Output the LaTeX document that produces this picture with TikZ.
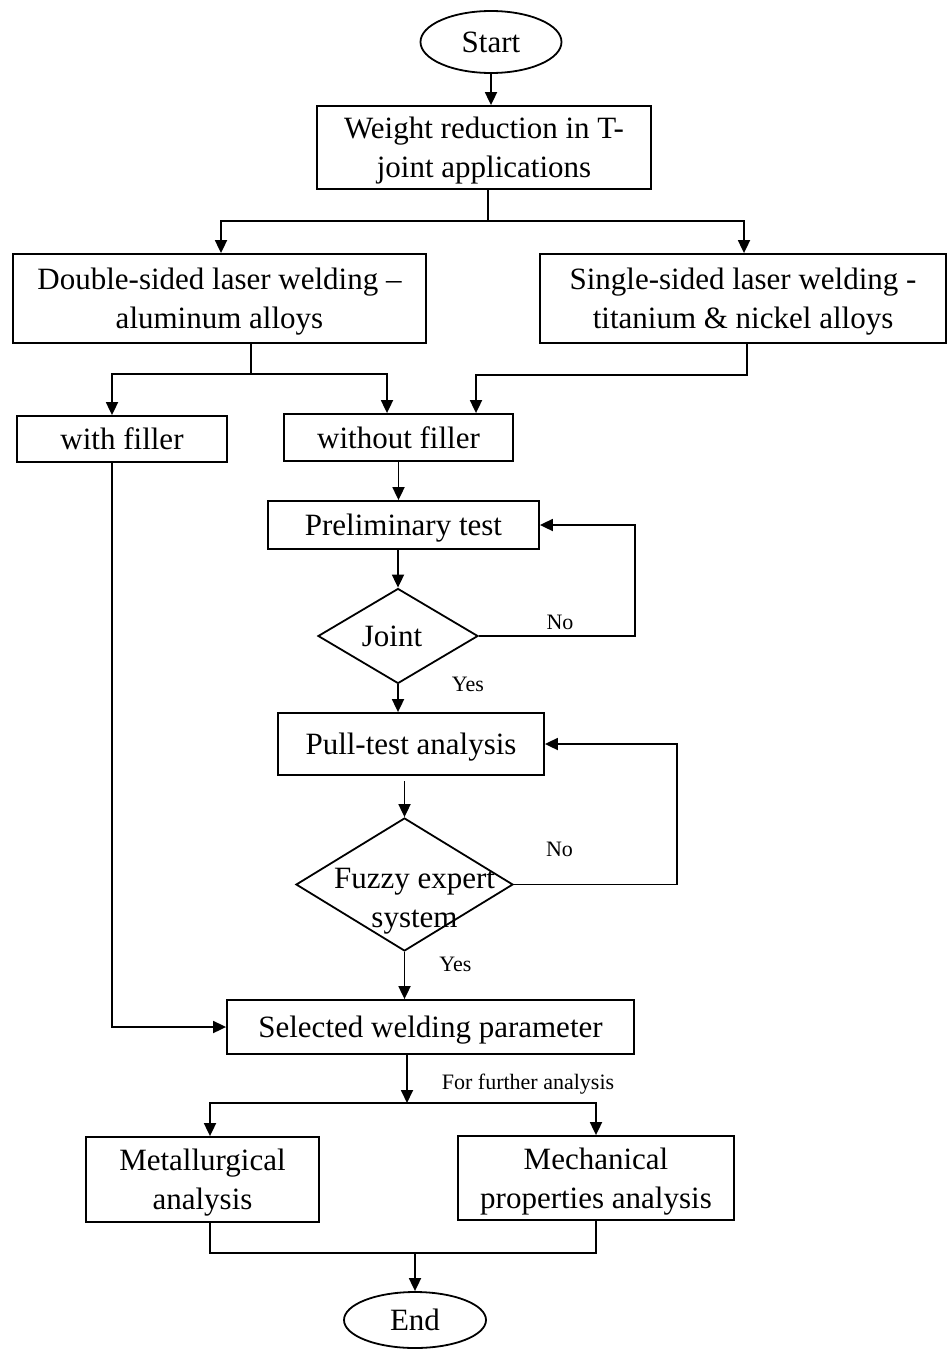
\documentclass[tikz,border=0pt]{standalone}
\usepackage{fontspec}
\setmainfont{Liberation Serif}
\usetikzlibrary{arrows.meta, positioning, shapes.geometric}

\begin{document}
\begin{tikzpicture}[x=1pt, y=-1pt, line width=1.8pt,
		      TX/.style = {align=center, text depth=0pt, font=\fontsize{31}{39}\selectfont},
		      BX/.style = {TX, draw, rectangle, inner sep=0pt},
		      TM/.style = {TX, draw, ellipse, inner sep=0pt},
		      DC/.style = {draw, diamond, inner sep=0pt},
		      LB/.style = {font=\fontsize{22}{26}\selectfont, inner sep=0pt},
		      AR/.style = {-{Triangle[length=13pt, width=12pt]}} ]
\useasboundingbox (0,0) rectangle (948,1349);

% boxes
\node (start)  [TM, minimum width=141pt, minimum height=62pt] at (491,42) {Start};
\node (weight) [BX, minimum width=334pt, minimum height=83pt] at (484,147.5)
	{Weight reduction in T-\\joint applications};
\node (double) [BX, minimum width=413pt, minimum height=89pt] at (219.5,298.5)
	{Double-sided laser welding --\\aluminum alloys};
\node (single) [BX, minimum width=406pt, minimum height=89pt] at (743,298.5)
	{Single-sided laser welding -\\titanium \& nickel alloys};
\node (withf)  [BX, minimum width=210pt, minimum height=46pt] at (122,439) {with filler};
\node (nofill) [BX, minimum width=229pt, minimum height=47pt] at (398.5,437.5) {without filler};
\node (prelim) [BX, minimum width=271pt, minimum height=48pt] at (403.5,525) {Preliminary test};
\node (joint)  [DC, minimum width=160pt, minimum height=95pt,
	label={[TX, xshift=-6pt]center:Joint}] at (398,636) {};
\node (pull)   [BX, minimum width=266pt, minimum height=62pt] at (411,744) {Pull-test analysis};
\node (fuzzy)  [DC, minimum width=217pt, minimum height=133pt,
	label={[TX, xshift=10pt, yshift=-13pt]center:Fuzzy expert\\system}] at (404.5,884.5) {};
\node (select) [BX, minimum width=407pt, minimum height=54pt] at (430.5,1027)
	{Selected welding parameter};
\node (metal)  [BX, minimum width=233pt, minimum height=85pt] at (202.5,1179.5)
	{Metallurgical\\analysis};
\node (mech)   [BX, minimum width=276pt, minimum height=84pt] at (596,1178)
	{Mechanical\\properties analysis};
\node (end)    [TM, minimum width=142pt, minimum height=56pt] at (415,1320) {End};

% connectors
\draw[AR] (start.south) -- (start.south |- weight.north);
\coordinate (split1) at (488,221);
\draw (weight.south -| split1) -- (split1);
\draw[AR] (split1) -| ([xshift=1.5pt]double.north);
\draw[AR] (split1) -| ([xshift=1pt]single.north);

\coordinate (split2) at (251,374);
\draw (double.south -| split2) -- (split2);
\draw[AR] (split2) -| ([xshift=-10pt]withf.north);
\draw[AR] (split2) -| ([xshift=-11.5pt]nofill.north);
\draw[AR] ([xshift=4pt]single.south) -- ++(0,31) -| ([xshift=77.5pt]nofill.north);

\draw[AR] ([xshift=-10pt]withf.south) |- (select.west);
\draw[AR] (nofill.south) -- (nofill.south |- prelim.north);
\draw[AR] (joint.north |- prelim.south) -- (joint.north);
\draw[AR] (joint.east) -- node[LB, pos=0.52, above=5pt] {No} ++(156,0) |- (prelim.east);
\draw[AR] (joint.south) -- (joint.south |- pull.north);
\node (yes1) [LB, right=53pt of joint.south] {Yes};

\draw[AR] (fuzzy.north) ++(0,-36) -- (fuzzy.north);
\draw[AR] (fuzzy.east) -- node[LB, pos=0.28, above=27pt] {No} ++(163,0) |- (pull.east);
\draw[AR] (fuzzy.south) -- (fuzzy.south |- select.north);
\node (yes2) [LB, right=34pt of fuzzy.south, yshift=-12pt] {Yes};

\coordinate (split3) at (407,1103);
\draw[AR] (select.south -| split3) -- (split3);
\node (further) [LB, right=34pt of split3, yshift=19pt] {For further analysis};
\draw[AR] (split3) -| ([xshift=7.5pt]metal.north);
\draw[AR] (split3) -| (mech.north);

\coordinate (join1) at (415,1253);
\draw ([xshift=7.5pt]metal.south) |- (mech.south |- join1) -- (mech.south);
\draw[AR] (join1) -- (end.north);
\end{tikzpicture}
\end{document}
